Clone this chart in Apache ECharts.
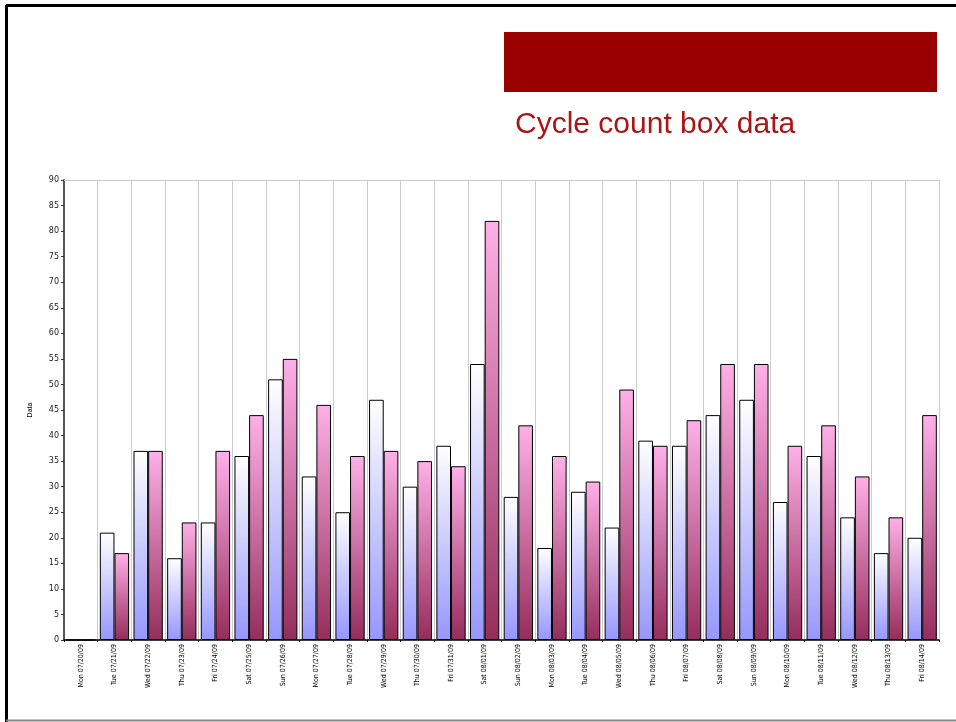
<!DOCTYPE html>
<html>
<head>
<meta charset="utf-8">
<script src="https://cdn.jsdelivr.net/npm/echarts@6/dist/echarts.min.js"></script>
<style>
html,body{margin:0;padding:0;background:#fff;}
#c{width:956px;height:722px;}
</style>
</head>
<body>
<div id="c"></div>
<script>
var categories = ["Mon 07/20/09","Tue 07/21/09","Wed 07/22/09","Thu 07/23/09","Fri 07/24/09","Sat 07/25/09","Sun 07/26/09","Mon 07/27/09","Tue 07/28/09","Wed 07/29/09","Thu 07/30/09","Fri 07/31/09","Sat 08/01/09","Sun 08/02/09","Mon 08/03/09","Tue 08/04/09","Wed 08/05/09","Thu 08/06/09","Fri 08/07/09","Sat 08/08/09","Sun 08/09/09","Mon 08/10/09","Tue 08/11/09","Wed 08/12/09","Thu 08/13/09","Fri 08/14/09"];
var seriesA = [0,21,37,16,23,36,51,32,25,47,30,38,54,28,18,29,22,39,38,44,47,27,36,24,17,20];
var seriesB = [0,17,37,23,37,44,55,46,36,37,35,34,82,42,36,31,49,38,43,54,54,38,42,32,24,44];
var yTicks = {min:0, max:90, interval:5};
var titleText = "Cycle count box data";
var yName = "Data";

var chart = echarts.init(document.getElementById('c'), null, {renderer:'canvas'});
var font = 'Liberation Sans, Arial, sans-serif';
chart.setOption({
  animation:false,
  backgroundColor:'#ffffff',
  graphic:[
    {type:'line', shape:{x1:6, y1:5.5, x2:956, y2:5.5}, style:{stroke:'#000', lineWidth:3}},
    {type:'line', shape:{x1:6.5, y1:5, x2:6.5, y2:722}, style:{stroke:'#000', lineWidth:3}},
    {type:'line', shape:{x1:6, y1:720.5, x2:956, y2:720.5}, style:{stroke:'#888', lineWidth:2}},
    {type:'rect', shape:{x:504, y:32, width:433, height:60}, style:{fill:'#990000'}},
    {type:'text', left:515, top:110, style:{text:titleText, fill:'#aa1515', font:'30px Liberation Sans, Arial, sans-serif'}}
  ],
  grid:{left:64, right:17, top:180, bottom:82, containLabel:false},
  xAxis:[{
    type:'category', data:categories, boundaryGap:true,
    axisLine:{lineStyle:{color:'#000', width:1.5}},
    axisTick:{show:true, length:2, lineStyle:{color:'#000'}},
    axisLabel:{rotate:90, fontSize:7, fontFamily:'DejaVu Sans Condensed, Liberation Sans Narrow, sans-serif', color:'#000', interval:0, margin:4},
    splitLine:{show:true, interval:0, lineStyle:{color:'#cccccc', width:1}}
  },{
    type:'category', data:categories, position:'top',
    axisLine:{show:true, lineStyle:{color:'#cccccc', width:1}},
    axisTick:{show:false}, axisLabel:{show:false}, splitLine:{show:false}
  }],
  yAxis:{
    type:'value', min:yTicks.min, max:yTicks.max, interval:yTicks.interval,
    name:yName, nameLocation:'middle', nameGap:30, nameRotate:90,
    nameTextStyle:{fontSize:7, color:'#000', fontFamily:font},
    axisLine:{show:true, lineStyle:{color:'#555', width:2}},
    axisTick:{show:true, length:3, lineStyle:{color:'#333'}},
    axisLabel:{fontSize:8, color:'#222', fontFamily:'DejaVu Sans, sans-serif', margin:5},
    splitLine:{show:false}
  },
  series:[{
    type:'bar', data:seriesA, xAxisIndex:0, barGap:'0%', barCategoryGap:'13%',
    itemStyle:{borderColor:'#000', borderWidth:1,
      color:new echarts.graphic.LinearGradient(0,0,0,1,[{offset:0,color:'#ffffff'},{offset:1,color:'#9696ff'}])}
  },{
    type:'bar', data:seriesB, xAxisIndex:0, barGap:'0%', barCategoryGap:'13%',
    itemStyle:{borderColor:'#000', borderWidth:1,
      color:new echarts.graphic.LinearGradient(0,0,0,1,[{offset:0,color:'#ffb0e8'},{offset:1,color:'#952d5c'}])}
  }]
});
</script>
</body>
</html>
